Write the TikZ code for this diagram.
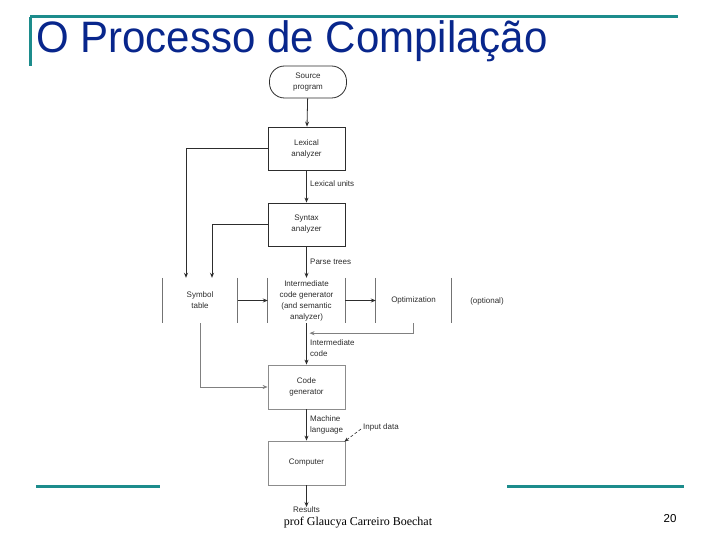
\documentclass[tikz,border=0pt]{standalone}
\usepackage{fontspec}
\setmainfont{Liberation Sans}
\newfontfamily\footserif{Liberation Serif}
\usetikzlibrary{arrows.meta,calc}
\definecolor{titleblue}{RGB}{8,38,140}
\definecolor{slideteal}{RGB}{28,140,140}
\definecolor{ink}{RGB}{45,45,45}
\begin{document}
\begin{tikzpicture}[x=1pt,y=-1pt,
  every node/.style={inner sep=0pt, text=ink},
  lbl/.style={font=\fontsize{8}{11}\selectfont, align=center},
  lblL/.style={font=\fontsize{8}{11}\selectfont, align=left, anchor=west},
  box/.style={draw=ink, line width=0.8pt, minimum width=77pt, minimum height=43pt, lbl},
  lbox/.style={draw=black!45, line width=0.8pt, minimum width=77pt, minimum height=44pt, lbl},
  rowbox/.style={minimum width=75pt, minimum height=45pt, lbl},
  conn/.style={draw=ink, line width=0.8pt, -{Stealth[length=5pt,width=4pt]}},
  lconn/.style={draw=black!50, line width=0.8pt, -{Stealth[length=5pt,width=4pt]}},
  teal/.style={draw=slideteal, line width=3pt}]
\useasboundingbox (0,0) rectangle (720,540);
\fill[white] (0,0) rectangle (720,540);
% slide frame
\draw[teal] (30,17) -- (678,17);
\draw[teal] (30,17) -- (30,66);
\draw[teal] (36,486) -- (160,486);
\draw[teal] (507,486) -- (684,486);
\node[anchor=base west, text=titleblue, font=\fontsize{44}{48}\selectfont, xscale=0.955] (title) at (36,53) {O Processo de Compilação};
% footer
\node[anchor=base, text=black, font=\footserif\fontsize{12}{14}\selectfont] (footer) at (358,525) {prof Glaucya Carreiro Boechat};
\node[anchor=base, text=black, font=\fontsize{11.5}{13}\selectfont] (pagenum) at (670,522) {20};
% diagram nodes
\node[draw=ink, line width=0.8pt, rounded corners=15pt, minimum width=77pt, minimum height=32pt, lbl] (src) at (308,82) {Source\\program};
\node[box] (lex) at (306.5,148.5) {Lexical\\analyzer};
\node[box] (syn) at (306.5,224.5) {Syntax\\analyzer};
\node[rowbox] (sym) at (200,300.5) {Symbol\\table};
\node[minimum width=77pt, minimum height=45pt, lbl] (int) at (306.5,300.5) {Intermediate\\code generator\\(and semantic\\analyzer)};
\node[rowbox] (opt) at (413.5,300.5) {Optimization};
\node[lbl] (optional) at (487,301) {(optional)};
\node[lbox] (cg) at (306.5,387) {Code\\generator};
\node[lbox] (comp) at (306.5,463) {Computer};
% row box sides
\foreach \n in {sym,int,opt}{
  \draw[draw=black!55, line width=0.8pt] (\n.north west) -- (\n.south west);
  \draw[draw=black!55, line width=0.8pt] (\n.north east) -- (\n.south east);
}
% labels
\node[lblL] (lu) at (310,184) {Lexical units};
\node[lblL] (pt) at (310,262) {Parse trees};
\node[lblL] (ic) at (310,348) {Intermediate\\code};
\node[lblL] (ml) at (310,424.5) {Machine\\language};
\node[lblL] (indata) at (363,427) {Input data};
\coordinate (res) at (306.5,507);
\node[lbl, anchor=north] (results) at (306.5,506) {Results};
% connectors
\draw[conn] (src) -- (lex);
\draw[conn] (lex) -- (syn);
\draw[conn] (syn) -- (int);
\draw[conn] (lex.west) -| ($(sym.north)+(-14,0)$);
\draw[conn] (syn.west) -| ($(sym.north)+(12,0)$);
\draw[conn] (sym.east) -- (int.west);
\draw[conn] (int.east) -- (opt.west);
\draw[lconn] (opt.south) -- ($(opt.south)+(0,10)$) -- ($(int.south)+(3,10)$);
\draw[lconn] (sym.south) |- (cg.west);
\draw[conn] (int.south) -- (cg.north);
\draw[conn] (cg.south) -- (comp.north);
\draw[draw=ink, line width=0.6pt, densely dashed, -{Stealth[length=4.5pt,width=3.5pt]}] ($(indata.west)+(-2,2)$) -- ($(comp.north east)+(-1,1)$);
\draw[conn] (comp.south) -- (res);
\end{tikzpicture}
\end{document}
